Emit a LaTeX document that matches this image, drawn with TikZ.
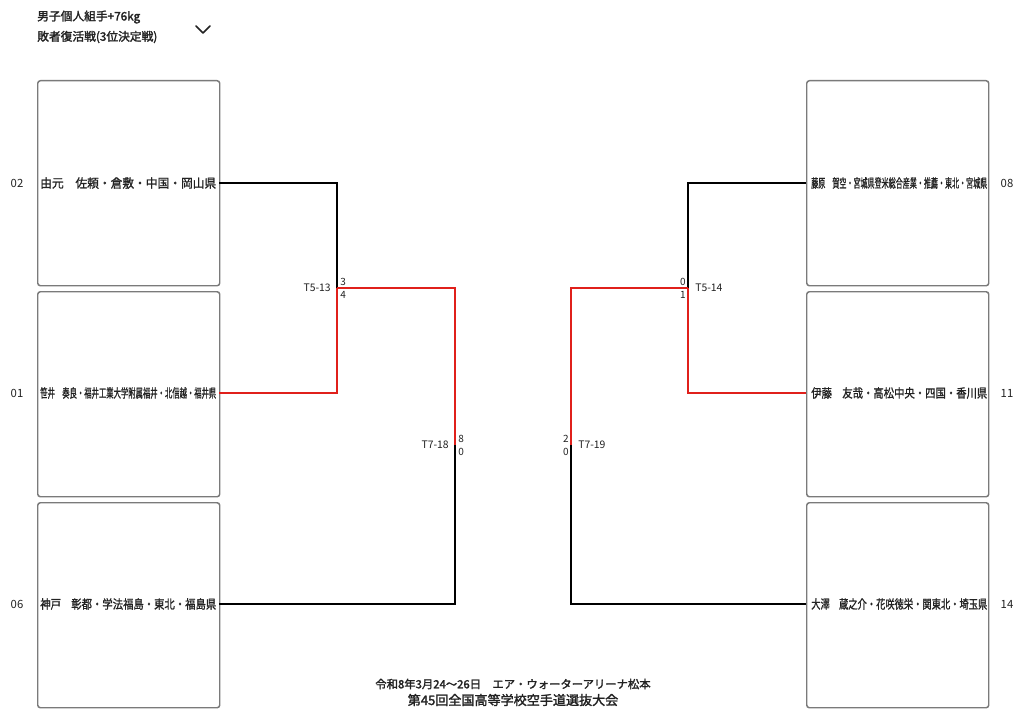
\documentclass[tikz,border=0pt]{standalone}
\usepackage{fontspec}
\setmainfont{Noto Sans CJK JP}
\newfontfamily\cjkb[FakeBold=1.2]{Noto Sans CJK JP}
\newfontfamily\cjkbb[FakeBold=2]{Noto Sans CJK JP}
\usepackage{graphicx}
\definecolor{wred}{HTML}{E0201B}
\definecolor{boxgray}{HTML}{7A7A7A}
\definecolor{txt}{HTML}{222222}
\newcommand{\fitname}[1]{\resizebox{132pt}{\height}{\cjkb #1}}
\tikzset{
  pbox/.style={draw=boxgray, line width=1.1pt, rounded corners=2pt},
  winline/.style={draw=wred, line width=2.2pt},
  loseline/.style={draw=black, line width=2.2pt},
  pname/.style={anchor=west, inner sep=0pt, font=\fontsize{9.3}{10}\selectfont, text=txt},
  seedlab/.style={inner sep=0pt, font=\fontsize{8.5}{9}\selectfont, text=txt},
  scorelab/.style={inner sep=0pt, font=\fontsize{7.5}{8}\selectfont, text=txt},
  matchlab/.style={inner sep=0pt, font=\fontsize{7.8}{8}\selectfont, text=txt},
  headlab/.style={anchor=west, inner sep=0pt, font=\fontsize{8.8}{9}\selectfont, text=txt},
}
\begin{document}
\begin{tikzpicture}[x=0.75pt, y=-0.75pt]
\useasboundingbox (0,0) rectangle (1024,724);
\fill[white] (0,0) rectangle (1024,724);
% header
\node[headlab] (h1) at (37,17) {\cjkbb 男子個人組手+76kg};
\node[headlab] (h2) at (37,37) {\cjkbb 敗者復活戦(3位決定戦)};
\coordinate (cv1) at (196,26); \coordinate (cv2) at (203,33); \coordinate (cv3) at (210,26);
\draw[line width=1.3pt, draw=txt, line cap=round, line join=round] (cv1) -- (cv2) -- (cv3);
% boxes
\node[pbox, minimum width=136.5pt, minimum height=153.75pt, anchor=north west] (b02) at (37,80) {};
\node[pbox, minimum width=136.5pt, minimum height=153.75pt, anchor=north west] (b01) at (37,291) {};
\node[pbox, minimum width=136.5pt, minimum height=153.75pt, anchor=north west] (b06) at (37,502) {};
\node[pbox, minimum width=136.5pt, minimum height=153.75pt, anchor=north west] (b08) at (806,80) {};
\node[pbox, minimum width=136.5pt, minimum height=153.75pt, anchor=north west] (b11) at (806,291) {};
\node[pbox, minimum width=136.5pt, minimum height=153.75pt, anchor=north west] (b14) at (806,502) {};
% names
\node[pname] (n02) at (40,183) {\fitname{由元　佐頼・倉敷・中国・岡山県}};
\node[pname] (n01) at (40,393) {\fitname{笹井　奏良・福井工業大学附属福井・北信越・福井県}};
\node[pname] (n06) at (40,604) {\fitname{神戸　彰都・学法福島・東北・福島県}};
\node[pname] (n08) at (811,183) {\fitname{藤原　賀空・宮城県登米総合産業・推薦・東北・宮城県}};
\node[pname] (n11) at (811,393) {\fitname{伊藤　友哉・高松中央・四国・香川県}};
\node[pname] (n14) at (811,604) {\fitname{大澤　蔵之介・花咲徳栄・関東北・埼玉県}};
% seeds
\node[seedlab] (s02) at (17,183) {02};
\node[seedlab] (s01) at (17,393) {01};
\node[seedlab] (s06) at (17,604) {06};
\node[seedlab] (s08) at (1007,183) {08};
\node[seedlab] (s11) at (1007,393) {11};
\node[seedlab] (s14) at (1007,604) {14};
% bracket coordinates
\coordinate (p02) at (219,183); \coordinate (p01) at (219,393); \coordinate (p06) at (219,604);
\coordinate (p08) at (806,183); \coordinate (p11) at (806,393); \coordinate (p14) at (806,604);
\coordinate (m13) at (337,288); \coordinate (m18) at (455,445);
\coordinate (m14) at (688,288); \coordinate (m19) at (571,445);
% left
\draw[loseline] (p02) -| (m13);
\draw[winline] (p01) -| (m13);
\draw[winline] (m13) -| (m18);
\draw[loseline] (p06) -| (m18);
% right
\draw[loseline] (p08) -| (m14);
\draw[winline] (p11) -| (m14);
\draw[winline] (m14) -| (m19);
\draw[loseline] (p14) -| (m19);
% match labels
\node[matchlab, anchor=east] (t13) at (331,288) {T5-13};
\node[scorelab, anchor=west] (sc13a) at (340,282) {3};
\node[scorelab, anchor=west] (sc13b) at (340,295) {4};
\node[matchlab, anchor=east] (t18) at (449,445) {T7-18};
\node[scorelab, anchor=west] (sc18a) at (458,439) {8};
\node[scorelab, anchor=west] (sc18b) at (458,452) {0};
\node[matchlab, anchor=west] (t14) at (695,288) {T5-14};
\node[scorelab, anchor=east] (sc14a) at (686,282) {0};
\node[scorelab, anchor=east] (sc14b) at (686,295) {1};
\node[matchlab, anchor=west] (t19) at (578,445) {T7-19};
\node[scorelab, anchor=east] (sc19a) at (569,439) {2};
\node[scorelab, anchor=east] (sc19b) at (569,452) {0};
% footer
\node[inner sep=0pt, font=\fontsize{8.5}{9}\selectfont, text=txt] (f1) at (513,684) {\cjkbb 令和8年3月24〜26日　エア・ウォーターアリーナ松本};
\node[inner sep=0pt, font=\fontsize{9.8}{11}\selectfont, text=txt] (f2) at (513,700) {\cjkbb 第45回全国高等学校空手道選抜大会};
\end{tikzpicture}
\end{document}
